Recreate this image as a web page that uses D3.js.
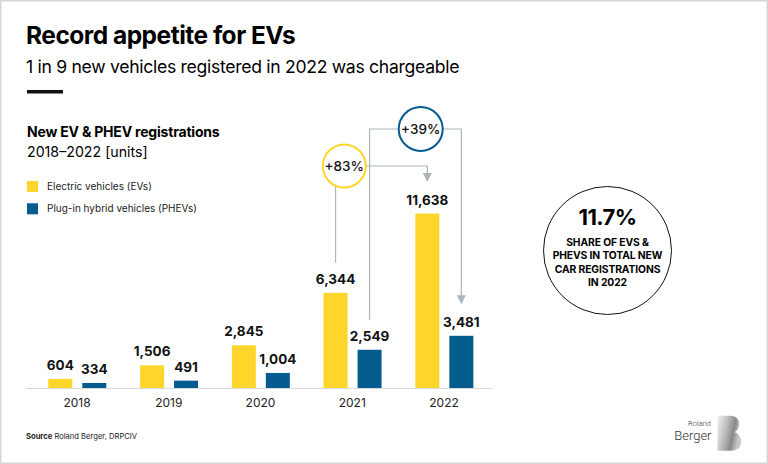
<!DOCTYPE html>
<html>
<head>
<meta charset="utf-8">
<script src="https://cdn.jsdelivr.net/npm/d3@7"></script>
<style>
  body { margin: 0; background: #fff; }
  svg { display: block; font-family: "Inter", "Noto Sans", sans-serif; }
</style>
</head>
<body>
<div id="chart-area"></div>
<script>
// chart data
var years = ["2018", "2019", "2020", "2021", "2022"];
var evValues = [604, 1506, 2845, 6344, 11638];
var phevValues = [334, 491, 1004, 2549, 3481];
var seriesNames = ["Electric vehicles (EVs)", "Plug-in hybrid vehicles (PHEVs)"];
var growthLabels = ["+83%", "+39%"];
var shareValue = "11.7%";
var shareLines = ["SHARE OF EVS &", "PHEVS IN TOTAL NEW", "CAR REGISTRATIONS", "IN 2022"];

var width = 768;
var height = 464;
var yellow = "#fdd52b";
var blue = "#035b8e";
var grey = "#aab5bc";

var svg = d3.select("#chart-area")
  .append("svg")
  .attr("width", width)
  .attr("height", height);

// frame
svg.append("rect")
  .attr("x", 0.75).attr("y", 0.75)
  .attr("width", width - 1.5).attr("height", height - 1.5)
  .attr("fill", "#fff")
  .attr("stroke", "#d3d7da")
  .attr("stroke-width", 1.5);

// headings
svg.append("text")
  .attr("x", 26).attr("y", 44)
  .attr("font-size", "24.5px").attr("font-weight", 700)
  .attr("letter-spacing", "-0.5px")
  .text("Record appetite for EVs");

svg.append("text")
  .attr("x", 26).attr("y", 73)
  .attr("font-size", "17.6px").attr("font-weight", 400)
  .attr("letter-spacing", "-0.3px")
  .text("1 in 9 new vehicles registered in 2022 was chargeable");

svg.append("rect")
  .attr("x", 27).attr("y", 90)
  .attr("width", 36).attr("height", 3.5)
  .attr("fill", "#111");

svg.append("text")
  .attr("x", 27).attr("y", 137)
  .attr("font-size", "14px").attr("font-weight", 700)
  .attr("letter-spacing", "-0.2px")
  .text("New EV & PHEV registrations");

svg.append("text")
  .attr("x", 27).attr("y", 157)
  .attr("font-size", "14.2px").attr("font-weight", 400)
  .text("2018\u20132022 [units]");

// legend
var legend = svg.append("g").attr("transform", "translate(27, 181)");
[yellow, blue].forEach(function(c, i) {
  legend.append("rect")
    .attr("x", 0).attr("y", i * 22.3)
    .attr("width", 11).attr("height", 11)
    .attr("fill", c);
  legend.append("text")
    .attr("x", 20).attr("y", i * 22.3 + 9)
    .attr("font-size", "10px")
    .attr("fill", "#222")
    .text(seriesNames[i]);
});

// scales
var x = d3.scaleBand()
  .domain(years)
  .range([31.1, 489.9])
  .paddingInner(0)
  .paddingOuter(0);

var xSub = d3.scaleBand()
  .domain(["ev", "phev"])
  .range([17.2, 75.2])
  .paddingInner(10 / 34)
  .paddingOuter(0);

var y = d3.scaleLinear()
  .domain([0, 11638])
  .range([388, 213.5]);

var data = years.map(function(yr, i) {
  return [
    { year: yr, key: "ev", value: evValues[i], color: yellow },
    { year: yr, key: "phev", value: phevValues[i], color: blue }
  ];
});
var flat = d3.merge(data);

var g = svg.append("g");

// baseline
g.append("line")
  .attr("x1", 26).attr("x2", 493)
  .attr("y1", y(0) + 0.5).attr("y2", y(0) + 0.5)
  .attr("stroke", "#d5d9dc")
  .attr("stroke-width", 1);

g.selectAll("rect.bar")
  .data(flat).enter()
  .append("rect")
  .attr("class", "bar")
  .attr("x", d => x(d.year) + xSub(d.key))
  .attr("y", d => y(d.value))
  .attr("width", xSub.bandwidth())
  .attr("height", d => y(0) - y(d.value))
  .attr("fill", d => d.color);

g.selectAll("text.val")
  .data(flat).enter()
  .append("text")
  .attr("class", "val")
  .attr("x", d => x(d.year) + xSub(d.key) + xSub.bandwidth() / 2)
  .attr("y", d => y(d.value) - 9)
  .attr("text-anchor", "middle")
  .attr("font-size", "13.5px")
  .attr("font-weight", 700)
  .attr("fill", "#111")
  .text(d => d3.format(",")(d.value));

// x axis labels
var bottomAxis = d3.axisBottom(x).tickSize(0).tickPadding(10);
var xAxis = g.append("g")
  .attr("class", "x axis")
  .attr("transform", "translate(0, " + y(0) + ")")
  .call(bottomAxis);
xAxis.select(".domain").remove();
xAxis.selectAll("text")
  .attr("font-family", "Inter, sans-serif")
  .attr("font-size", "12px")
  .attr("fill", "#222");

// growth annotations
function barCenter(i, key) {
  return x(years[i]) + xSub(key) + xSub.bandwidth() / 2;
}

var defs = svg.append("defs");

function arrowHead(px, tipY) {
  g.append("path")
    .attr("d", "M" + (px - 4.5) + "," + (tipY - 9) + "L" + (px + 4.5) + "," + (tipY - 9) + "L" + px + "," + tipY + "Z")
    .attr("fill", grey);
}

function growth(key, cx, cy, r, color, label) {
  var fromX = barCenter(3, key);
  var toX = barCenter(4, key);
  var vals = key === "ev" ? evValues : phevValues;
  var fromEnd = y(vals[3]) - 30;
  var tipY = y(vals[4]) - 31.5;
  var dxl = fromX - cx;

  if (Math.abs(dxl) < r) {
    var startY = cy + Math.sqrt(r * r - dxl * dxl);
    g.append("line")
      .attr("x1", fromX).attr("x2", fromX)
      .attr("y1", startY).attr("y2", fromEnd)
      .attr("stroke", grey).attr("stroke-width", 1.2);
  } else {
    g.append("path")
      .attr("d", "M" + fromX + "," + fromEnd + "V" + cy + "H" + (cx - r))
      .attr("fill", "none")
      .attr("stroke", grey).attr("stroke-width", 1.2);
  }
  g.append("path")
    .attr("d", "M" + (cx + r) + "," + cy + "H" + toX + "V" + (tipY - 8))
    .attr("fill", "none")
    .attr("stroke", grey).attr("stroke-width", 1.2);
  arrowHead(toX, tipY);

  g.append("circle")
    .attr("cx", cx).attr("cy", cy).attr("r", r)
    .attr("fill", "#fff")
    .attr("stroke", color)
    .attr("stroke-width", 2);
  g.append("text")
    .attr("x", cx).attr("y", cy + 4.8)
    .attr("text-anchor", "middle")
    .attr("font-size", "13.5px")
    .attr("font-weight", 500)
    .attr("fill", "#111")
    .text(label);
}

growth("ev", 344.3, 166, 21.5, yellow, growthLabels[0]);
growth("phev", 420.7, 129, 22, blue, growthLabels[1]);

// share circle
var share = svg.append("g").attr("transform", "translate(607.5, 250.5)");
share.append("circle")
  .attr("r", 64)
  .attr("fill", "none")
  .attr("stroke", "#111")
  .attr("stroke-width", 1);
share.append("text")
  .attr("y", -25.5)
  .attr("text-anchor", "middle")
  .attr("font-size", "22px")
  .attr("font-weight", 700)
  .attr("letter-spacing", "-0.6px")
  .text(shareValue);
share.selectAll("text.line")
  .data(shareLines).enter()
  .append("text")
  .attr("class", "line")
  .attr("y", (d, i) => -4.5 + i * 13.4)
  .attr("text-anchor", "middle")
  .attr("font-size", "10.3px")
  .attr("font-weight", 700)
  .attr("letter-spacing", "-0.1px")
  .text(d => d);

// source
var src = svg.append("text")
  .attr("x", 26).attr("y", 439)
  .attr("font-size", "7.6px")
  .attr("fill", "#222");
src.append("tspan").attr("font-weight", 700).text("Source");
src.append("tspan").text(" Roland Berger, DRPCIV");

// logo
var grad = defs.append("linearGradient")
  .attr("id", "bgrad")
  .attr("x1", "0").attr("x2", "1").attr("y1", "0").attr("y2", "0.3");
grad.append("stop").attr("offset", "0").attr("stop-color", "#f2f2f2");
grad.append("stop").attr("offset", "0.45").attr("stop-color", "#b9b9b9");
grad.append("stop").attr("offset", "0.75").attr("stop-color", "#8a8a8a");
grad.append("stop").attr("offset", "1").attr("stop-color", "#c8c8c8");

svg.append("path")
  .attr("d", "M717.5,415.7 H730 C737,415.7 739,420 739,424 C739,428 737,431 734.5,432.3 C739,433.5 741,437 741,441.5 C741,447 738,450.7 731,450.7 H717.5 Z")
  .attr("fill", "url(#bgrad)");

svg.append("text")
  .attr("x", 711).attr("y", 425.5)
  .attr("text-anchor", "end")
  .attr("font-family", "Roboto, sans-serif")
  .attr("font-size", "7.5px")
  .attr("font-weight", 300)
  .attr("fill", "#333")
  .text("Roland");
svg.append("text")
  .attr("x", 711.5).attr("y", 439.5)
  .attr("text-anchor", "end")
  .attr("font-family", "Roboto, sans-serif")
  .attr("font-size", "13px")
  .attr("font-weight", 300)
  .attr("fill", "#333")
  .text("Berger");
</script>
</body>
</html>
